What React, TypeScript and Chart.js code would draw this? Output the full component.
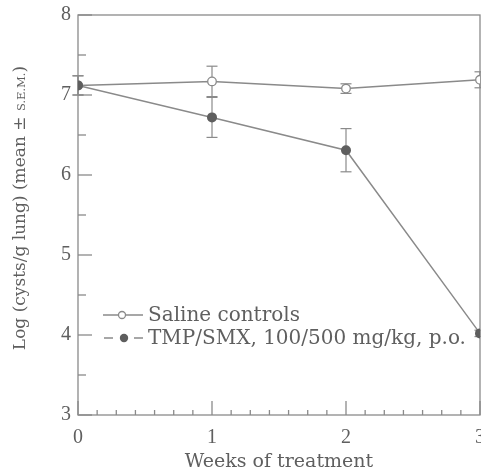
import React, { useEffect, useRef } from "react";
import { Chart, registerables } from "chart.js";

Chart.register(...registerables);

// ---- data ----
const weeks = [0, 1, 2, 3];
const salineMean = [7.12, 7.17, 7.08, 7.19];
const salineSem = [0.12, 0.19, 0.06, 0.1];
const tmpMean = [7.12, 6.72, 6.31, 4.02];
const tmpSem = [0.12, 0.25, 0.27, 0.04];
const seriesLabels = ["Saline controls", "TMP/SMX, 100/500 mg/kg, p.o."];
const xTickValues = [0, 1, 2, 3];
const yTickValues = [3, 4, 5, 6, 7, 8];
const xTitle = "Weeks of treatment";
const yTitleMain = "Log (cysts/g lung) (mean \u00b1 ";
const yTitleSmall = "S.E.M.";
const yTitleEnd = ")";

// ---- styles ----
const LINE = "#8a8a8a";
const TEXT = "#5f5f5f";
const DOT = "#5e5e5e";
const SERIF = "'DejaVu Serif', serif";

const decor = {
  id: "decor",
  beforeDatasetsDraw(chart: any) {
    const { ctx, chartArea: a, scales } = chart;
    const x = scales.x;
    const y = scales.y;
    ctx.save();
    ctx.strokeStyle = LINE;
    ctx.lineWidth = 1.3;
    ctx.strokeRect(a.left, a.top, a.right - a.left, a.bottom - a.top);
    const seg = (x1: number, y1: number, x2: number, y2: number) => {
      ctx.beginPath();
      ctx.moveTo(x1, y1);
      ctx.lineTo(x2, y2);
      ctx.stroke();
    };
    const yMin = yTickValues[0];
    const yMax = yTickValues[yTickValues.length - 1];
    for (let k = 0; k <= (yMax - yMin) * 2; k++) {
      const v = yMin + k / 2;
      const py = y.getPixelForValue(v);
      seg(a.left, py, a.left + (k % 2 === 0 ? 14 : 8), py);
    }
    const xMax = xTickValues[xTickValues.length - 1];
    for (let i = 0; i <= xMax * 7; i++) {
      const px = x.getPixelForValue(i / 7);
      seg(px, a.bottom, px, a.bottom - (i % 7 === 0 ? 14 : 5));
    }
    // error bars
    chart.data.datasets.forEach((ds: any) => {
      const sem: number[] = ds.sem;
      ds.data.forEach((p: any, i: number) => {
        const px = x.getPixelForValue(p.x);
        const top = y.getPixelForValue(p.y + sem[i]);
        const bot = y.getPixelForValue(p.y - sem[i]);
        ctx.lineWidth = 1.2;
        seg(px, top, px, bot);
        seg(px - 5.5, top, px + 5.5, top);
        seg(px - 5.5, bot, px + 5.5, bot);
      });
    });
    ctx.restore();
  },
  afterDraw(chart: any) {
    const { ctx, chartArea: a } = chart;
    ctx.save();
    ctx.fillStyle = TEXT;
    // x title
    ctx.font = `19px ${SERIF}`;
    ctx.textAlign = "center";
    ctx.textBaseline = "middle";
    ctx.fillText(xTitle, (a.left + a.right) / 2, 462);
    // y title (rotated, with small S.E.M.)
    ctx.translate(19, 208);
    ctx.rotate(-Math.PI / 2);
    const bigFont = `17px ${SERIF}`;
    const smallFont = `11.5px ${SERIF}`;
    ctx.font = bigFont;
    const w1 = ctx.measureText(yTitleMain).width;
    const w3 = ctx.measureText(yTitleEnd).width;
    ctx.font = smallFont;
    const w2 = ctx.measureText(yTitleSmall).width;
    const total = w1 + w2 + w3;
    let cx = -total / 2;
    ctx.textAlign = "left";
    ctx.textBaseline = "alphabetic";
    ctx.font = bigFont;
    ctx.fillText(yTitleMain, cx, 6);
    cx += w1;
    ctx.font = smallFont;
    ctx.fillText(yTitleSmall, cx, 6);
    cx += w2;
    ctx.font = bigFont;
    ctx.fillText(yTitleEnd, cx, 6);
    ctx.restore();

    // legend
    ctx.save();
    ctx.strokeStyle = LINE;
    ctx.lineWidth = 1.3;
    ctx.fillStyle = TEXT;
    ctx.font = `20px ${SERIF}`;
    ctx.textBaseline = "middle";
    ctx.textAlign = "left";
    const r1 = 315;
    const r2 = 338;
    ctx.beginPath();
    ctx.moveTo(103, r1);
    ctx.lineTo(143, r1);
    ctx.stroke();
    ctx.beginPath();
    ctx.arc(122, r1, 3.5, 0, Math.PI * 2);
    ctx.fillStyle = "#fff";
    ctx.fill();
    ctx.stroke();
    ctx.beginPath();
    ctx.moveTo(104, r2);
    ctx.lineTo(113, r2);
    ctx.moveTo(134, r2);
    ctx.lineTo(143, r2);
    ctx.stroke();
    ctx.beginPath();
    ctx.arc(124, r2, 4.2, 0, Math.PI * 2);
    ctx.fillStyle = DOT;
    ctx.fill();
    ctx.fillStyle = TEXT;
    ctx.fillText(seriesLabels[0], 148, r1 + 1);
    ctx.fillText(seriesLabels[1], 148, r2 + 1);
    ctx.restore();
  },
};

export default function App() {
  const ref = useRef<HTMLCanvasElement>(null);
  useEffect(() => {
    if (!ref.current) return;
    const chart = new Chart(ref.current, {
      type: "line",
      data: {
        datasets: [
          {
            label: seriesLabels[1],
            data: weeks.map((w, i) => ({ x: w, y: tmpMean[i] })),
            sem: tmpSem,
            borderColor: LINE,
            borderWidth: 1.5,
            pointRadius: 5,
            pointBackgroundColor: DOT,
            pointBorderColor: DOT,
            pointBorderWidth: 0,
            order: 0,
          } as any,
          {
            label: seriesLabels[0],
            data: weeks.map((w, i) => ({ x: w, y: salineMean[i] })),
            sem: salineSem,
            borderColor: LINE,
            borderWidth: 1.5,
            pointRadius: 4.3,
            pointBackgroundColor: "#fff",
            pointBorderColor: LINE,
            pointBorderWidth: 1.3,
            order: 1,
          } as any,
        ],
      },
      options: {
        animation: false,
        responsive: false,
        devicePixelRatio: 1,
        layout: { padding: { top: 15, right: 30, left: 0, bottom: 0 } },
        plugins: { legend: { display: false }, tooltip: { enabled: false } },
        scales: {
          x: {
            type: "linear",
            min: xTickValues[0],
            max: xTickValues[xTickValues.length - 1],
            grid: { display: false, drawTicks: false },
            border: { display: false },
            afterBuildTicks: (s: any) => {
              s.ticks = xTickValues.map((v) => ({ value: v }));
            },
            ticks: {
              color: TEXT,
              font: { family: "'Liberation Serif', serif", size: 20 },
              padding: 11,
              maxRotation: 0,
            },
            afterFit: (s: any) => {
              s.height = 58;
              s.paddingLeft = 0;
              s.paddingRight = 0;
            },
          },
          y: {
            type: "linear",
            min: yTickValues[0],
            max: yTickValues[yTickValues.length - 1],
            grid: { display: false, drawTicks: false },
            border: { display: false },
            afterBuildTicks: (s: any) => {
              s.ticks = yTickValues.map((v) => ({ value: v }));
            },
            ticks: {
              color: TEXT,
              font: { family: "'Liberation Serif', serif", size: 20 },
              padding: 7,
            },
            afterFit: (s: any) => {
              s.width = 78;
              s.paddingTop = 0;
              s.paddingBottom = 0;
            },
          },
        },
      },
      plugins: [decor],
    });
    return () => chart.destroy();
  }, []);
  return (
    <div
      style={{
        position: "fixed",
        left: 0,
        top: 0,
        width: 481,
        height: 473,
        overflow: "hidden",
        background: "#fff",
      }}
    >
      <canvas ref={ref} width={510} height={473} style={{ display: "block" }} />
    </div>
  );
}
